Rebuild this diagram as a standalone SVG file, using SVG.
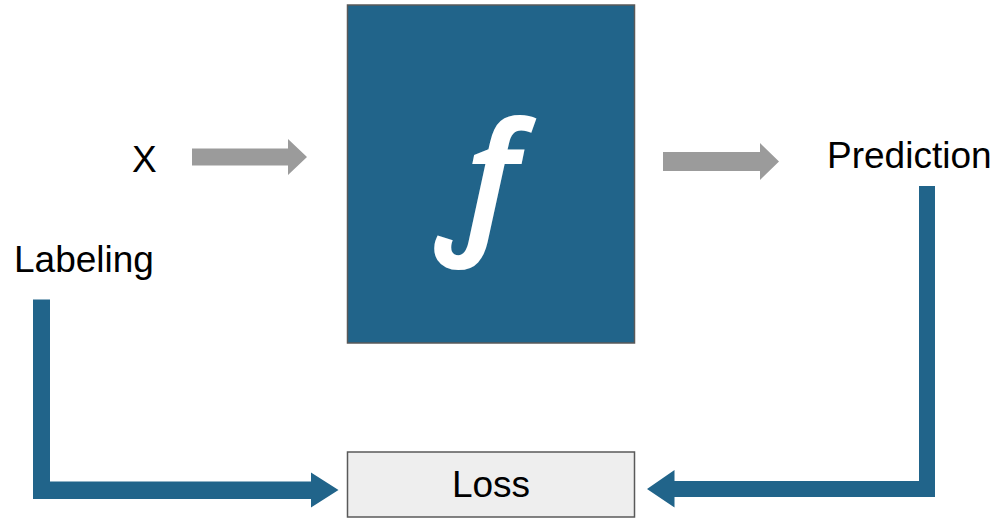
<svg xmlns="http://www.w3.org/2000/svg" width="998" height="518" viewBox="0 0 998 518">
<style>
.lbl{font-family:"Liberation Sans",Arial,sans-serif;font-size:37px;fill:#000}
.blue{fill:#21648a}
.gray{fill:#9b9b9b}
</style>
<rect width="998" height="518" fill="#fff"/>
<g id="node-f">
<rect x="347.5" y="5" width="287" height="338" fill="#21648a" stroke="#595959" stroke-width="1.5"/>
<text x="483" y="233" font-family="'Noto Sans',sans-serif" font-style="italic" font-weight="600" font-size="154" fill="#fff" text-anchor="middle">ƒ</text>
</g>
<g id="node-x"><text class="lbl" x="132" y="172">X</text></g>
<g id="node-labeling"><text class="lbl" x="14" y="272">Labeling</text></g>
<g id="node-prediction"><text class="lbl" x="827" y="168">Prediction</text></g>
<g id="node-loss">
<rect x="347.5" y="452" width="287" height="65" fill="#eeeeee" stroke="#595959" stroke-width="1.5"/>
<text class="lbl" x="491" y="497" text-anchor="middle">Loss</text>
</g>
<g id="connectors">
<polygon class="gray" points="192,148.5 288,148.5 288,139 307,157 288,175 288,165.5 192,165.5"/>
<polygon class="gray" points="663,152 760,152 760,143 779,161.5 760,180 760,171 663,171"/>
<polygon class="blue" points="33,299.5 50,299.5 50,481.5 311,481.5 311,472.5 338.5,490 311,507.5 311,499 33,499"/>
<polygon class="blue" points="935,186 919,186 919,481 674.5,481 674.5,470 647,489 674.5,507.5 674.5,497 935,497"/>
</g>
</svg>
